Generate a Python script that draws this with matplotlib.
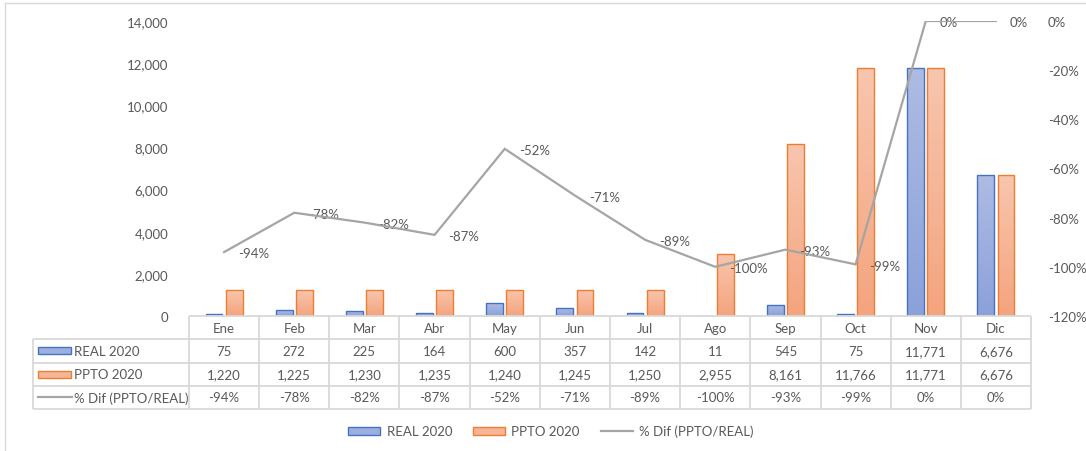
import numpy as np
import matplotlib
matplotlib.use("Agg")
import matplotlib.pyplot as plt
from matplotlib.colors import LinearSegmentedColormap
from matplotlib.patches import Patch, Rectangle
from matplotlib.lines import Line2D

months = ["Ene", "Feb", "Mar", "Abr", "May", "Jun", "Jul", "Ago", "Sep", "Oct", "Nov", "Dic"]
real_2020 = [75, 272, 225, 164, 600, 357, 142, 11, 545, 75, 11771, 6676]
ppto_2020 = [1220, 1225, 1230, 1235, 1240, 1245, 1250, 2955, 8161, 11766, 11771, 6676]
pct_dif = [-0.94, -0.78, -0.82, -0.87, -0.52, -0.71, -0.89, -1.00, -0.93, -0.99, 0.0, 0.0]
series_names = ["REAL 2020", "PPTO 2020", "% Dif (PPTO/REAL)"]
left_ticks = [0, 2000, 4000, 6000, 8000, 10000, 12000, 14000]
right_ticks = [0, -0.2, -0.4, -0.6, -0.8, -1.0, -1.2]

plt.rcParams['font.family'] = ['Lato', 'DejaVu Sans']
TXT = '#595959'
FS = 9.5
W, H = 1086, 452

blue_edge, orange_edge = '#4472C4', '#ED7D31'
blue_top, blue_bot = '#AEBCE3', '#8BA1DA'
orange_top, orange_bot = '#F8C6AE', '#F4A47E'
line_col = '#A5A5A5'
grid_col = '#D9D9D9'

fig = plt.figure(figsize=(W / 100, H / 100), dpi=100)

# outer chart border (top and left visible)
fig.add_artist(Line2D([5 / W, 5 / W], [0, 1 - 4 / H], transform=fig.transFigure, color='#D9D9D9', lw=1))
fig.add_artist(Line2D([5 / W, 1], [1 - 4 / H, 1 - 4 / H], transform=fig.transFigure, color='#D9D9D9', lw=1))

x0px, x1px = 189, 1031
ax = fig.add_axes([x0px / W, 1 - 317 / H, (x1px - x0px) / W, 295 / H])
ax.set_xlim(-0.5, 11.5)
ax.set_ylim(0, 14000)
for s in ax.spines.values():
    s.set_visible(False)
ax.set_xticks([])
ax.set_yticks(left_ticks)
ax.set_yticklabels([f"{t:,}" for t in left_ticks])
ax.tick_params(axis='y', length=0, pad=15, labelcolor=TXT, labelsize=FS)

x = np.arange(len(months))
bw = 0.24
off = 0.143
grad = np.linspace(0, 1, 256).reshape(-1, 1)
cmap_b = LinearSegmentedColormap.from_list('b', [blue_bot, blue_top])
cmap_o = LinearSegmentedColormap.from_list('o', [orange_bot, orange_top])

def grad_bars(xs, vals, cmap, edge):
    bars = ax.bar(xs, vals, width=bw, facecolor='none', edgecolor=edge, linewidth=1.0, zorder=3)
    for b in bars:
        bx, by = b.get_x(), b.get_y()
        bwid, bh = b.get_width(), b.get_height()
        if bh <= 0:
            continue
        im = ax.imshow(grad, cmap=cmap, extent=(bx, bx + bwid, by, by + bh), origin='lower',
                       aspect='auto', zorder=2, interpolation='bilinear')
        im.set_clip_path(b)

grad_bars(x - off, real_2020, cmap_b, blue_edge)
grad_bars(x + off, ppto_2020, cmap_o, orange_edge)
ax.set_xlim(-0.5, 11.5)
ax.set_ylim(0, 14000)

ax2 = ax.twinx()
ax2.set_ylim(-1.2, 0)
for s in ax2.spines.values():
    s.set_visible(False)
ax2.set_yticks(right_ticks)
ax2.set_yticklabels([f"{round(t * 100):d}%" for t in right_ticks])
ax2.tick_params(axis='y', length=0, pad=12, labelcolor=TXT, labelsize=FS)
ax2.plot(x, pct_dif, color=line_col, lw=1.6, zorder=4, solid_joinstyle='miter')
for xi, v in zip(x, pct_dif):
    ax2.annotate(f"{round(v * 100):d}%", (xi, v), xytext=(10, -1), textcoords='offset points',
                 ha='left', va='center', color=TXT, fontsize=FS)

# data table
tax = fig.add_axes([x0px / W, 1 - 410 / H, (x1px - x0px) / W, 93 / H])
tax.set_xlim(-0.5, 11.5)
tax.set_ylim(0, 4)
tax.axis('off')
colw = (x1px - x0px) / 12.0

def px2x(px):
    return (px - x0px) / colw - 0.5

xleft = px2x(33)
lkw = dict(color=grid_col, lw=1.3, clip_on=False, solid_capstyle='butt')
tax.plot([-0.5, 11.5], [4, 4], **lkw)
for yy in [3, 2, 1, 0]:
    tax.plot([xleft, 11.5], [yy, yy], **lkw)
for i in range(13):
    tax.plot([-0.5 + i, -0.5 + i], [0, 4], **lkw)
tax.plot([xleft, xleft], [0, 3], **lkw)

for i, m in enumerate(months):
    tax.text(i, 3.5, m, ha='center', va='center', color=TXT, fontsize=FS)
    tax.text(i, 2.5, f"{real_2020[i]:,}", ha='center', va='center', color=TXT, fontsize=FS)
    tax.text(i, 1.5, f"{ppto_2020[i]:,}", ha='center', va='center', color=TXT, fontsize=FS)
    tax.text(i, 0.5, f"{round(pct_dif[i] * 100):d}%", ha='center', va='center', color=TXT, fontsize=FS)

rowh = 93 / 4.0
kx0, kx1 = px2x(38), px2x(71)
kh = 7 / rowh
for yy, fc, ec in [(2.5, '#9DAFDF', blue_edge), (1.5, '#F6B596', orange_edge)]:
    tax.add_patch(Rectangle((kx0, yy - kh / 2), kx1 - kx0, kh, facecolor=fc, edgecolor=ec,
                            lw=1.0, clip_on=False))
tax.plot([kx0, px2x(72)], [0.5, 0.5], color=line_col, lw=1.6, clip_on=False)
tx = px2x(74)
for yy, name in zip([2.5, 1.5, 0.5], series_names):
    tax.text(tx, yy, name, ha='left', va='center', color=TXT, fontsize=FS, clip_on=False)

# bottom legend
handles = [Patch(facecolor='#9DAFDF', edgecolor=blue_edge, lw=1.0),
           Patch(facecolor='#F6B596', edgecolor=orange_edge, lw=1.0),
           Line2D([], [], color=line_col, lw=1.6)]
leg = fig.legend(handles, series_names, loc='center', bbox_to_anchor=(551 / W, 1 - 432 / H), ncol=3,
                 frameon=False, fontsize=FS, handlelength=2.4, handleheight=0.55,
                 handletextpad=0.5, columnspacing=1.6)
for t in leg.get_texts():
    t.set_color(TXT)

fig.savefig('out.png', dpi=100)
